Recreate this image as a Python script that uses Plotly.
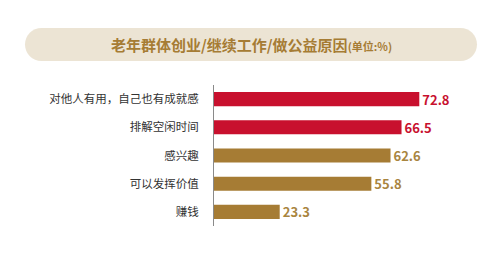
import plotly.graph_objects as go

categories = ["对他人有用，自己也有成就感", "排解空闲时间", "感兴趣", "可以发挥价值", "赚钱"]
values = [72.8, 66.5, 62.6, 55.8, 23.3]
bar_colors = ["#c8102e", "#c8102e", "#a67c34", "#a67c34", "#a67c34"]
label_colors = ["#c8102e", "#c8102e", "#a9853f", "#a9853f", "#a9853f"]
title_main = "老年群体创业/继续工作/做公益原因"
title_unit = "(单位:%)"

W, H = 501, 255
L, R, T, B = 214, 5, 85, 29
pw, ph = W - L - R, H - T - B

def px(x):
    return (x - L) / pw

def py(y):
    return (H - B - y) / ph

# rounded rectangle path in pixel coords
x0, x1, y0, y1, r = 25, 477, 28, 61, 16.5
k = 0.5523 * r
def P(x, y):
    return f"{px(x):.5f},{py(y):.5f}"
path = (
    f"M {P(x0 + r, y0)} L {P(x1 - r, y0)} "
    f"C {P(x1 - r + k, y0)} {P(x1, y0 + r - k)} {P(x1, y0 + r)} "
    f"L {P(x1, y1 - r)} "
    f"C {P(x1, y1 - r + k)} {P(x1 - r + k, y1)} {P(x1 - r, y1)} "
    f"L {P(x0 + r, y1)} "
    f"C {P(x0 + r - k, y1)} {P(x0, y1 - r + k)} {P(x0, y1 - r)} "
    f"L {P(x0, y0 + r)} "
    f"C {P(x0, y0 + r - k)} {P(x0 + r - k, y0)} {P(x0 + r, y0)} Z"
)

fig = go.Figure()
fig.add_trace(go.Bar(
    x=values, y=categories, orientation="h",
    marker=dict(color=bar_colors, line=dict(width=0)),
    width=0.5,
    text=[f"{v:.1f}" for v in values],
    textposition="outside",
    constraintext="none",
    textfont=dict(color=label_colors, size=13, family="Noto Sans CJK SC", weight="bold"),
    cliponaxis=False,
    hoverinfo="skip",
))

fig.add_shape(type="path", path=path, xref="paper", yref="paper",
              fillcolor="#ece4d4", line=dict(width=0), layer="below")
fig.add_annotation(
    x=px(251), y=py(44.5), xref="paper", yref="paper", showarrow=False,
    xanchor="center", yanchor="middle",
    text=f"<b>{title_main}</b><span style='font-size:11px'><b>{title_unit}</b></span>",
    font=dict(size=15, color="#a67c34", family="Noto Sans CJK SC"),
)

fig.update_layout(
    width=W, height=H,
    margin=dict(l=L, r=R, t=T, b=B),
    paper_bgcolor="white", plot_bgcolor="white",
    showlegend=False,
    font=dict(family="Noto Sans CJK SC", color="#333333"),
    xaxis=dict(range=[0, 100], visible=False, fixedrange=True),
    yaxis=dict(
        autorange="reversed", showgrid=False, zeroline=False,
        showline=True, linecolor="#8a8a8a", linewidth=1,
        ticks="", ticklabelstandoff=12,
        tickfont=dict(size=11.5, color="#333333", family="Noto Sans CJK SC"),
    ),
    bargap=0.5,
)

fig.write_html("out.html")
